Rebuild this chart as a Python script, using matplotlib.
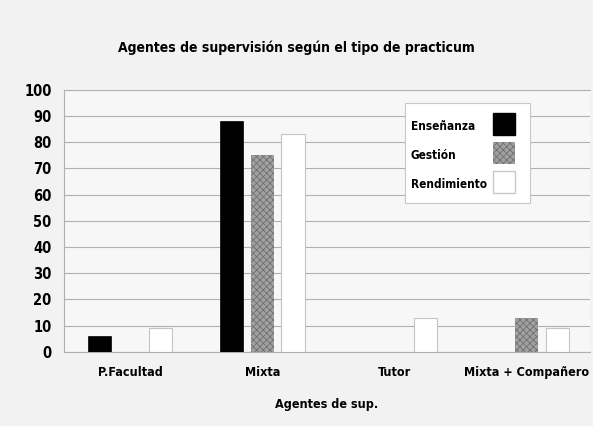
import matplotlib.pyplot as plt
from matplotlib.patches import Rectangle
import numpy as np

# datos
categorias = ['P.Facultad', 'Mixta', 'Tutor', 'Mixta + Compañero']
ensenanza = [6, 88, 0, 0]
gestion = [0, 75, 0, 13]
rendimiento = [9, 83, 13, 9]
yticks = list(range(0, 101, 10))

plt.rcParams['font.family'] = ['DejaVu Sans']
plt.rcParams['font.stretch'] = 'condensed'
plt.rcParams['font.weight'] = 'bold'
plt.rcParams['axes.labelweight'] = 'bold'
plt.rcParams['hatch.linewidth'] = 0.6

fig = plt.figure(figsize=(5.93, 4.26), dpi=100, facecolor='#f2f2f2')
ax = fig.add_axes([0.108, 0.174, 0.887, 0.615])
ax.set_facecolor('#f7f7f7')

x = np.arange(len(categorias))
w = 0.175
step = 0.232

ax.bar(x - step, ensenanza, w, color='black', edgecolor='black', linewidth=0.5, zorder=3)
ax.bar(x, gestion, w, color='#a0a0a0', edgecolor='#707070', hatch='xxxxx',
       linewidth=0, zorder=3)
ax.bar(x + step, rendimiento, w, color='white', edgecolor='#c4c4c4', linewidth=0.8, zorder=3)

ax.set_xlim(-0.5, len(categorias) - 0.52)
ax.set_ylim(0, 100)
ax.set_yticks(yticks)
ax.tick_params(axis='y', length=0, labelsize=10.5, pad=9)
ax.tick_params(axis='x', length=0, labelsize=9, pad=10)
ax.set_xticks(x)
ax.set_xticklabels(categorias)
ax.yaxis.grid(True, color='#b0b0b0', linewidth=0.8, zorder=0)
for s in ['top', 'right', 'bottom', 'left']:
    ax.spines[s].set_color('#b0b0b0')
    ax.spines[s].set_linewidth(0.8)
ax.spines['right'].set_visible(False)

ax.set_xlabel('Agentes de sup.', fontsize=9, labelpad=14)
fig.suptitle('Agentes de supervisión según el tipo de practicum', fontsize=10,
             fontweight='bold', y=0.905)

# leyenda hecha a mano: texto a la izquierda, muestra a la derecha
ax.add_patch(Rectangle((0.648, 0.569), 0.238, 0.381, transform=ax.transAxes,
                       facecolor='white', edgecolor='#c8c8c8', linewidth=0.8, zorder=5))
etiquetas = ['Enseñanza', 'Gestión', 'Rendimiento']
estilos = [dict(facecolor='black', edgecolor='black'),
           dict(facecolor='#a0a0a0', edgecolor='#707070', hatch='xxxxx', linewidth=0),
           dict(facecolor='white', edgecolor='#c8c8c8')]
for i, (lab, st) in enumerate(zip(etiquetas, estilos)):
    yc = 0.870 - i * 0.111
    ax.text(0.659, yc - 0.008, lab, transform=ax.transAxes, fontsize=8.5,
            va='center', ha='left', zorder=6)
    ax.add_patch(Rectangle((0.816, yc - 0.042), 0.042, 0.084, transform=ax.transAxes,
                           zorder=6, **st))

fig.savefig('out.png', dpi=100, facecolor=fig.get_facecolor())
